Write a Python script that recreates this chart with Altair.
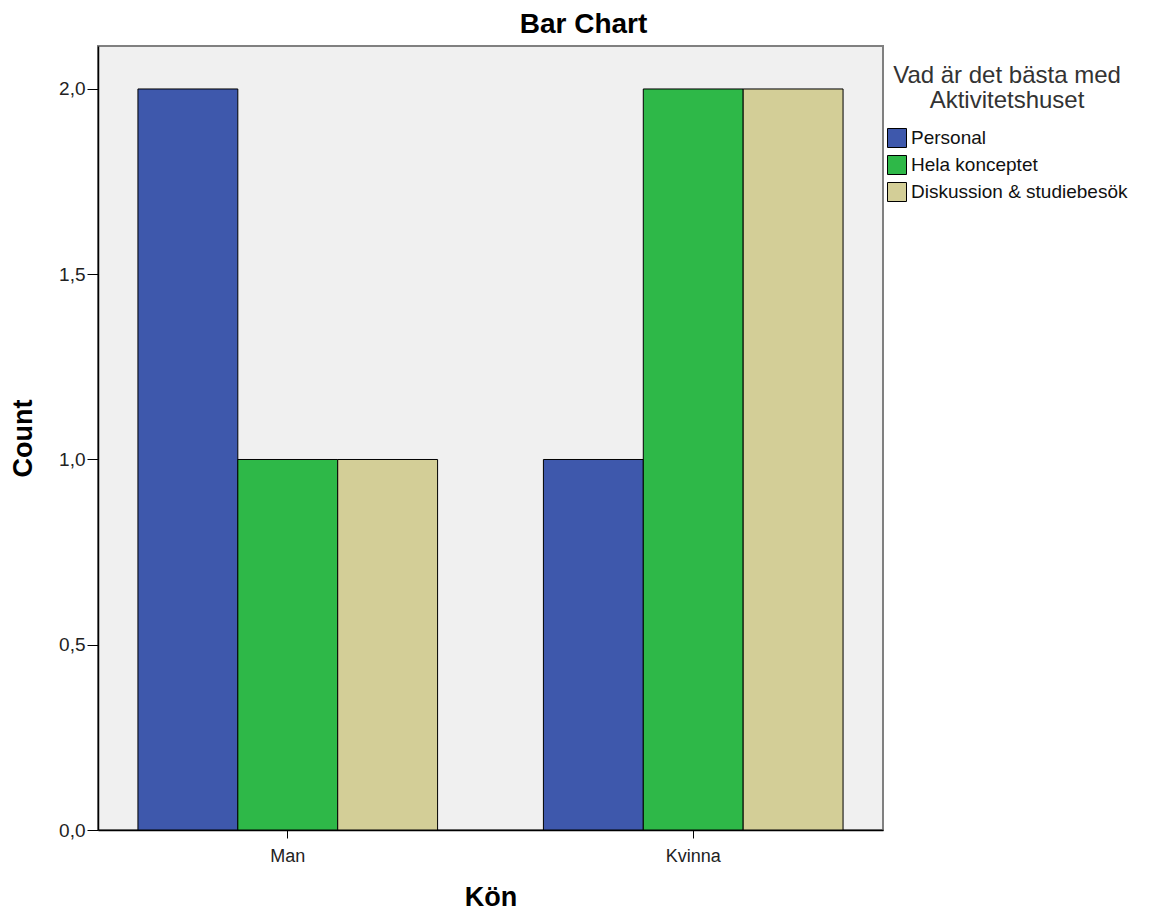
import altair as alt
import pandas as pd

genders = ["Man", "Man", "Man", "Kvinna", "Kvinna", "Kvinna"]
answers = ["Personal", "Hela konceptet", "Diskussion & studiebesök"] * 2
counts = [2, 1, 1, 1, 2, 2]

categories = ["Personal", "Hela konceptet", "Diskussion & studiebesök"]
colors = ["#3e58ac", "#2eb848", "#d3ce97"]
y_ticks = [0, 0.5, 1.0, 1.5, 2.0]

df = pd.DataFrame({"Kön": genders, "Svar": answers, "Count": counts})

FONT = "Liberation Sans"

chart = alt.Chart(df).mark_bar(stroke="black", strokeWidth=1).encode(
    x=alt.X("Kön:N", sort=["Man", "Kvinna"],
            scale=alt.Scale(paddingInner=0.261, paddingOuter=0.0985),
            axis=alt.Axis(title="Kön", labelAngle=0, labelFontSize=18, labelColor="#222",
                          titleFontSize=27, titleFontWeight="bold", titleColor="black",
                          titleY=67, titleBaseline="middle",
                          tickSize=8, tickColor="black",
                          domainColor="black", labelPadding=9)),
    xOffset=alt.XOffset("Svar:N", sort=categories,
                        scale=alt.Scale(paddingInner=0, paddingOuter=0)),
    y=alt.Y("Count:Q", scale=alt.Scale(domain=[0, 2.116], nice=False, zero=True),
            axis=alt.Axis(title="Count", values=y_ticks, grid=False,
                          labelExpr="replace(format(datum.value, '.1f'), '.', ',')",
                          labelFontSize=19, labelColor="#222", tickSize=11,
                          labelPadding=2,
                          tickColor="black", domainColor="black",
                          titleFontSize=27, titleFontWeight="bold", titleColor="black",
                          titleX=-75, titleBaseline="middle")),
    color=alt.Color("Svar:N", sort=categories,
                    scale=alt.Scale(domain=categories, range=colors),
                    legend=alt.Legend(title=["Vad är det bästa med", "Aktivitetshuset"],
                                      orient="none", legendX=789, legendY=18,
                                      titleFontSize=24, titleFontWeight="normal",
                                      titleLineHeight=25, titleLimit=400,
                                      titleColor="#333", titleAlign="center",
                                      titleAnchor="middle", titlePadding=15,
                                      labelFontSize=19, labelColor="#111",
                                      labelLimit=400,
                                      symbolType="square", symbolSize=361,
                                      symbolStrokeColor="black", symbolStrokeWidth=1,
                                      symbolOpacity=1, rowPadding=3,
                                      labelOffset=4)),
).properties(
    width=785, height=784,
    title=alt.TitleParams("Bar Chart", fontSize=28, fontWeight="bold", color="black",
                          dx=93, offset=7, font=FONT),
    autosize=alt.AutoSizeParams(type="none"),
    padding={"left": 90, "top": 38, "right": 265, "bottom": 82},
).configure(font=FONT).configure_view(
    fill="#f0f0f0", stroke="#808080", strokeWidth=2
).configure_axis(labelFont=FONT, titleFont=FONT, domainWidth=1.5
).configure_legend(labelFont=FONT, titleFont=FONT)

chart.save("out.html", embed_options={"renderer": "svg", "actions": False})
